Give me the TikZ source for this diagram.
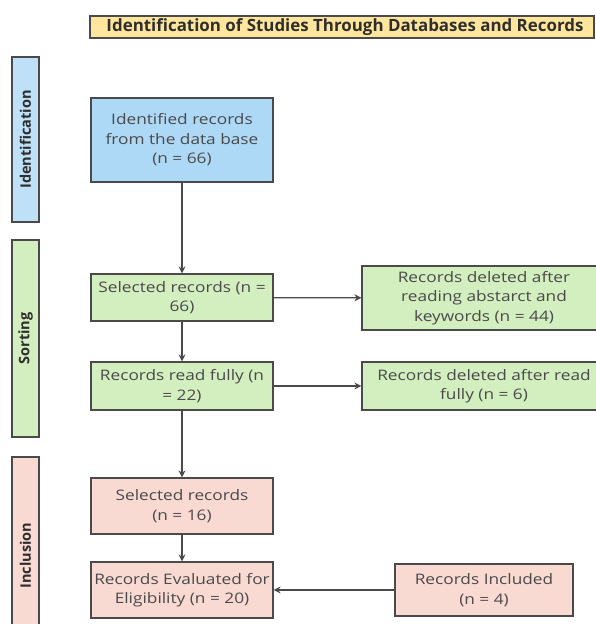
\documentclass[tikz,border=0pt]{standalone}
\usepackage{fontspec}
\setmainfont{Open Sans}
\newfontfamily\boxfont{Open Sans}[FakeStretch=1.19]
\usetikzlibrary{arrows.meta}
\definecolor{edge}{HTML}{4A4A4A}
\definecolor{ink}{HTML}{4A4A4A}
\definecolor{titleink}{HTML}{2E2E2E}
\definecolor{titlefill}{HTML}{FFE69C}
\definecolor{bluefill}{HTML}{ADD8F6}
\definecolor{bluelab}{HTML}{BFE1F8}
\definecolor{greenfill}{HTML}{D3EEBF}
\definecolor{pinkfill}{HTML}{F9DAD3}
\tikzset{
  box/.style={draw=edge, line width=1.2pt, text=ink, align=center, inner sep=0pt,
    font=\boxfont\fontsize{14.5}{19.5}\selectfont},
  lab/.style={draw=edge, line width=1.2pt, text=titleink, inner sep=0pt,
    rotate=90, font=\bfseries\fontsize{14.5}{17}\selectfont},
  flow/.style={draw=edge, line width=1.2pt, -{Stealth[length=7pt,width=7pt]}}
}
\begin{document}
\begin{tikzpicture}[x=1pt,y=-1pt]
\useasboundingbox (0,0) rectangle (595,624);
% header
\node[box, fill=titlefill, minimum width=504pt, minimum height=22pt, text=titleink,
  font=\bfseries\fontsize{16.9}{19}\selectfont] (title) at (342,27)
  {\hspace*{6pt}Identification of Studies Through Databases and Records};
% stage labels
\node[lab, fill=bluelab, minimum width=165pt, minimum height=27pt] (idlab) at (25.5,139.5) {Identification};
\node[lab, fill=greenfill, minimum width=197pt, minimum height=27pt] (sortlab) at (25.5,338.5) {Sorting};
\node[lab, fill=pinkfill, minimum width=197pt, minimum height=27pt] (inclab) at (25.5,555.5) {Inclusion};
% main column
\node[box, fill=bluefill, minimum width=182pt, minimum height=84pt] (idn) at (182,140)
  {Identified records\\from the data base\\(n = 66)};
\node[box, fill=greenfill, minimum width=182pt, minimum height=47pt] (sel) at (182,297.5)
  {Selected records (n =\\66)};
\node[box, fill=greenfill, minimum width=182pt, minimum height=48pt] (full) at (182,386)
  {Records read fully (n\\= 22)};
\node[box, fill=pinkfill, minimum width=182pt, minimum height=56pt] (sel16) at (182,506)
  {Selected records\\(n = 16)};
\node[box, fill=pinkfill, minimum width=182pt, minimum height=56pt] (eval) at (182,590)
  {Records Evaluated for\\Eligibility (n = 20)};
% side column
\node[box, fill=greenfill, minimum width=244pt, minimum height=64pt] (del1) at (484,298)
  {Records deleted after\\reading abstarct and\\keywords (n = 44)};
\node[box, fill=greenfill, minimum width=244pt, minimum height=48pt] (del2) at (484,386)
  {Records deleted after read\\fully (n = 6)};
\node[box, fill=pinkfill, minimum width=178pt, minimum height=52pt] (incl) at (484,590)
  {Records Included\\(n = 4)};
% connectors
\draw[flow] (idn) -- (sel);
\draw[flow] (sel) -- (full);
\draw[flow] (full) -- (sel16);
\draw[flow] (sel16) -- (eval);
\draw[flow] (sel) -- (del1);
\draw[flow] (full) -- (del2);
\draw[flow] (incl) -- (eval);
\end{tikzpicture}
\end{document}
